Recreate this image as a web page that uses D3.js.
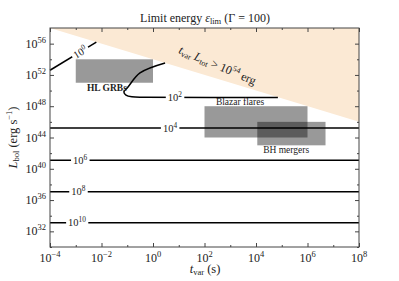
<!DOCTYPE html>
<html>
<head>
<meta charset="utf-8">
<script src="https://cdn.jsdelivr.net/npm/d3@7"></script>
<style>
  body { margin: 0; background: #fff; }
  svg text { font-family: "Liberation Serif", "DejaVu Serif", serif; fill: #222; }
</style>
</head>
<body>
<div class="container"></div>
<script>
// ---- data ----
var xTickExp = [-4, -2, 0, 2, 4, 6, 8];
var yTickExp = [32, 36, 40, 44, 48, 52, 56];

// flat contours of epsilon_lim
var flatLevels = ['4', '6', '8', '10'];
var flatLogL = [45.2, 41.1, 37.07, 33.1];
var flatLabelLogT = [0.66, -2.83, -2.9, -2.95];

// epsilon = 10^0 contour
var eps0LogT = [-4, -2.2];
var eps0LogL = [52.6, 56.2];
var eps0Label = [-2.83, 54.9];

// epsilon = 10^2 contour
var eps2LogT = [0.47, -0.505, -0.97, -1.13, -1.05, -0.82, -0.31, 4.85];
var eps2LogL = [53.52, 52.25, 50.46, 49.82, 49.43, 49.2, 49.14, 49.11];
var eps2Label = [0.85, 49.11];

// t_var * L_tot limit (erg)
var limitLogE = 54;

// source classes
var srcNames = ['HL GRBs', 'Blazar flares', 'BH mergers'];
var srcLogT = [[-3, 0], [2, 6], [4.05, 6.7]];
var srcLogL = [[51, 54], [44, 48], [43, 46]];
var srcLabelLogT = [-1.79, 3.38, 5.17];
var srcLabelLogL = [49.94, 48.15, 42.0];

buildChart();

function buildChart() {

  /* ===== SET UP CHART =====*/
  var w = 399, h = 281;
  var left = 50, right = 359, top = 28, bottom = 247;

  var svg = d3.select('.container')
    .append('svg')
    .attr('width', w)
    .attr('height', h);

  var xScale = d3.scaleLog().domain([1e-4, 1e8]).range([left, right]);
  var yScale = d3.scaleLog().domain([1e30, 1e58]).range([bottom, top]);
  var px = function(e) { return xScale(Math.pow(10, e)); };
  var py = function(e) { return yScale(Math.pow(10, e)); };

  /* ===== SHADED REGION =====*/
  var tEnds = [-4, 8];
  var region = [[tEnds[0], limitLogE - tEnds[0]], [tEnds[0], 58], [tEnds[1], 58], [tEnds[1], limitLogE - tEnds[1]]];
  svg.append('path')
    .attr('d', d3.line().x(function(d) { return px(d[0]); }).y(function(d) { return py(Math.min(d[1], 58)); })(region) + 'Z')
    .attr('fill', '#fbe9d4');

  svg.append('text')
    .attr('transform', 'translate(' + px(2.45) + ',' + py(52.76) + ') rotate(23)')
    .attr('text-anchor', 'middle')
    .attr('font-size', '12px')
    .attr('font-style', 'italic')
    .call(function(t) {
      t.append('tspan').text('t');
      t.append('tspan').attr('font-size', '8px').attr('dy', 2).attr('font-style', 'normal').text('var');
      t.append('tspan').attr('dy', -2).text(' L');
      t.append('tspan').attr('font-size', '8px').attr('dy', 2).attr('font-style', 'normal').text('tot');
      t.append('tspan').attr('dy', -2).attr('font-style', 'normal').text(' > 10');
      t.append('tspan').attr('font-size', '8px').attr('dy', -5).attr('font-style', 'normal').text('54');
      t.append('tspan').attr('dy', 5).attr('font-style', 'normal').text(' erg');
    });

  /* ===== CONTOURS =====*/
  var lineGen = d3.line()
    .x(function(d) { return px(d[0]); })
    .y(function(d) { return py(d[1]); });

  flatLevels.forEach(function(lev, i) {
    svg.append('line')
      .attr('x1', left).attr('x2', right)
      .attr('y1', py(flatLogL[i])).attr('y2', py(flatLogL[i]))
      .attr('stroke', '#000').attr('stroke-width', 1.5);
  });

  svg.append('path')
    .attr('d', lineGen(d3.zip(eps0LogT, eps0LogL)))
    .attr('fill', 'none').attr('stroke', '#000').attr('stroke-width', 1.5);

  svg.append('path')
    .attr('d', lineGen.curve(d3.curveCatmullRom)(d3.zip(eps2LogT, eps2LogL)))
    .attr('fill', 'none').attr('stroke', '#000').attr('stroke-width', 1.5);

  function powLabel(g, exp, size) {
    var t = g.append('text').attr('text-anchor', 'middle').attr('font-size', size + 'px')
      .attr('dy', '0.35em');
    t.append('tspan').text('10');
    t.append('tspan').attr('font-size', (size * 0.7) + 'px').attr('dy', -size * 0.4).text(exp);
    var bb = t.node().getBBox();
    g.insert('rect', 'text')
      .attr('x', bb.x - 2).attr('y', bb.y).attr('width', bb.width + 4).attr('height', bb.height)
      .attr('fill', '#fff');
  }

  flatLevels.forEach(function(lev, i) {
    var g = svg.append('g').attr('transform', 'translate(' + px(flatLabelLogT[i]) + ',' + py(flatLogL[i]) + ')');
    powLabel(g, lev, 10.5);
  });
  powLabel(svg.append('g').attr('transform', 'translate(' + px(eps2Label[0]) + ',' + py(eps2Label[1]) + ')'), '2', 10.5);
  powLabel(svg.append('g').attr('transform', 'translate(' + px(eps0Label[0]) + ',' + py(eps0Label[1]) + ') rotate(-31)'), '0', 10.5);

  /* ===== SOURCE BOXES =====*/
  srcNames.forEach(function(name, i) {
    svg.append('rect')
      .attr('x', px(srcLogT[i][0]))
      .attr('y', py(srcLogL[i][1]))
      .attr('width', px(srcLogT[i][1]) - px(srcLogT[i][0]))
      .attr('height', py(srcLogL[i][0]) - py(srcLogL[i][1]))
      .attr('fill', '#000').attr('fill-opacity', 0.4);
    svg.append('text')
      .attr('x', px(srcLabelLogT[i]))
      .attr('y', py(srcLabelLogL[i]))
      .attr('text-anchor', 'middle')
      .attr('font-size', '9.5px')
      .attr('font-weight', i === 0 ? 'bold' : 'normal')
      .text(name);
  });

  /* ===== AXES =====*/
  var xMajor = xTickExp.map(function(e) { return Math.pow(10, e); });
  var xMinor = d3.range(-3, 8, 2).map(function(e) { return Math.pow(10, e); });
  var yMajor = yTickExp.map(function(e) { return Math.pow(10, e); });
  var yMinor = d3.range(30, 58, 2).filter(function(e) { return e % 4 !== 0; }).map(function(e) { return Math.pow(10, e); });

  function axisPair(gen, scale, vals, size, tr) {
    svg.append('g').attr('transform', tr)
      .call(gen(scale).tickValues(vals).tickSize(size).tickFormat(''))
      .call(function(g) { g.select('.domain').remove(); g.selectAll('line').attr('stroke', '#444'); });
  }
  axisPair(d3.axisBottom, xScale, xMajor, -4, 'translate(0,' + bottom + ')');
  axisPair(d3.axisBottom, xScale, xMinor, -2, 'translate(0,' + bottom + ')');
  axisPair(d3.axisTop, xScale, xMajor, -4, 'translate(0,' + top + ')');
  axisPair(d3.axisTop, xScale, xMinor, -2, 'translate(0,' + top + ')');
  axisPair(d3.axisLeft, yScale, yMajor, -4, 'translate(' + left + ',0)');
  axisPair(d3.axisLeft, yScale, yMinor, -2, 'translate(' + left + ',0)');
  axisPair(d3.axisRight, yScale, yMajor, -4, 'translate(' + right + ',0)');
  axisPair(d3.axisRight, yScale, yMinor, -2, 'translate(' + right + ',0)');

  svg.append('rect')
    .attr('x', left).attr('y', top)
    .attr('width', right - left).attr('height', bottom - top)
    .attr('fill', 'none').attr('stroke', '#444').attr('stroke-width', 1);

  xTickExp.forEach(function(e) {
    var t = svg.append('text').attr('x', px(e)).attr('y', bottom + 15)
      .attr('text-anchor', 'middle').attr('font-size', '12px');
    t.append('tspan').text('10');
    t.append('tspan').attr('font-size', '8.5px').attr('dy', -5).text(e < 0 ? '\u2212' + (-e) : e);
  });
  yTickExp.forEach(function(e) {
    var t = svg.append('text').attr('x', left - 4).attr('y', py(e) + 4)
      .attr('text-anchor', 'end').attr('font-size', '12px');
    t.append('tspan').text('10');
    t.append('tspan').attr('font-size', '8.5px').attr('dy', -5).text(e);
  });

  /* ===== TITLES =====*/
  var title = svg.append('text').attr('x', 205).attr('y', 22)
    .attr('text-anchor', 'middle').attr('font-size', '12px');
  title.append('tspan').text('Limit energy ');
  title.append('tspan').attr('font-style', 'italic').text('\u03B5');
  title.append('tspan').attr('font-size', '8.5px').attr('dy', 2).text('lim');
  title.append('tspan').attr('dy', -2).text(' (\u0393 = 100)');

  var xl = svg.append('text').attr('x', 205).attr('y', 273)
    .attr('text-anchor', 'middle').attr('font-size', '12.5px');
  xl.append('tspan').attr('font-style', 'italic').text('t');
  xl.append('tspan').attr('font-size', '8.5px').attr('dy', 2).text('var');
  xl.append('tspan').attr('dy', -2).text(' (s)');

  var yl = svg.append('text')
    .attr('transform', 'translate(17,' + ((top + bottom) / 2) + ') rotate(-90)')
    .attr('text-anchor', 'middle').attr('font-size', '12.5px');
  yl.append('tspan').attr('font-style', 'italic').text('L');
  yl.append('tspan').attr('font-size', '8.5px').attr('dy', 2).text('bol');
  yl.append('tspan').attr('dy', -2).text(' (erg s');
  yl.append('tspan').attr('font-size', '8.5px').attr('dy', -5).text('\u22121');
  yl.append('tspan').attr('dy', 5).text(')');
}
</script>
</body>
</html>
